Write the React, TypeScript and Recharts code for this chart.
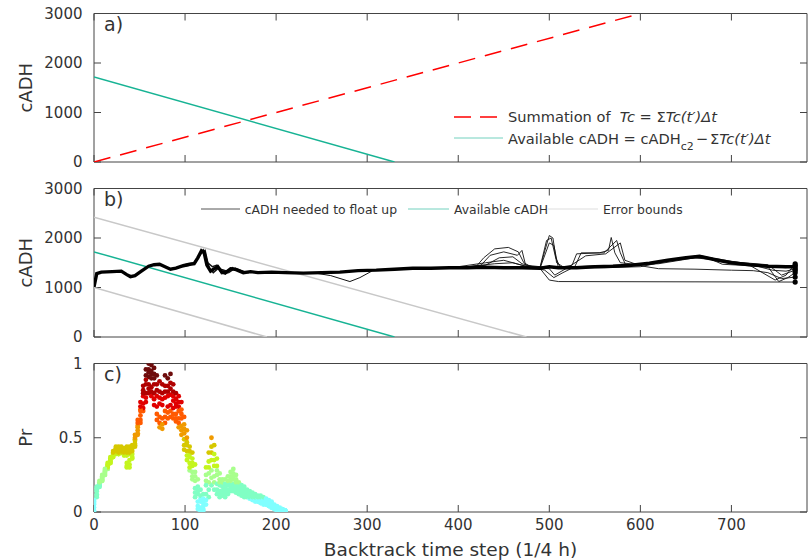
import React from 'react';
import { ComposedChart, Line, Scatter, XAxis, YAxis, ReferenceArea, Legend } from 'recharts';

const xTicks = [0, 100, 200, 300, 400, 500, 600, 700];
const cadhTicks = [0, 1000, 2000, 3000];
const prTicks = [0, 0.5, 1];

// straight lines, [time step, cADH]
const summation: [number, number][] = [[0, 0], [600, 3000]];
const available: [number, number][] = [[0, 1720], [330, 0]];
const upperBound: [number, number][] = [[0, 2420], [475, 0]];
const lowerBound: [number, number][] = [[0, 1000], [190, 0]];

// cADH needed to float up, ensemble members
const ensembleCore: [number, number][] = [
  [0, 1010], [3, 1280], [8, 1310], [20, 1320], [30, 1330], [36, 1260], [40, 1220], [45, 1240], [52, 1330],
  [60, 1430], [66, 1460], [72, 1470], [78, 1420], [84, 1370], [90, 1390], [98, 1440], [105, 1470], [110, 1480],
  [114, 1600], [118, 1740], [121, 1700], [124, 1450], [128, 1330], [132, 1380], [136, 1420], [140, 1320],
  [144, 1290], [150, 1380], [156, 1360], [164, 1300], [172, 1320], [180, 1300], [195, 1310], [210, 1300],
  [230, 1290], [250, 1300], [270, 1310], [290, 1340], [310, 1350], [330, 1370], [350, 1390], [370, 1390],
  [390, 1400], [410, 1400], [430, 1410], [450, 1400], [470, 1400], [490, 1390], [500, 1420], [510, 1400],
  [530, 1400], [550, 1420], [570, 1430], [590, 1450], [610, 1490], [630, 1550], [650, 1600], [665, 1630],
  [680, 1570], [700, 1500], [720, 1460], [740, 1430], [760, 1420], [770, 1420],
];
const member1: [number, number][] = [
  [400, 1410], [420, 1430], [428, 1600], [440, 1780], [455, 1810], [466, 1720], [472, 1500], [480, 1420],
  [490, 1410], [496, 1800], [500, 2050], [504, 2000], [508, 1500], [515, 1420], [530, 1420], [560, 1440],
  [600, 1470], [640, 1580], [665, 1640], [690, 1560], [720, 1470], [745, 1350], [760, 1330], [770, 1380],
];
const member2: [number, number][] = [
  [400, 1400], [425, 1450], [435, 1650], [450, 1720], [465, 1650], [470, 1750], [474, 1450], [490, 1420],
  [497, 1950], [502, 2000], [507, 1600], [512, 1410], [525, 1450], [530, 1680], [555, 1700], [565, 1750],
  [568, 2010], [572, 1700], [578, 1500], [600, 1460], [640, 1560], [665, 1620], [690, 1520], [720, 1450],
  [748, 1150], [760, 1250], [770, 1480],
];
const member3: [number, number][] = [
  [400, 1390], [430, 1450], [445, 1600], [460, 1620], [470, 1480], [490, 1380], [500, 1150], [510, 1120],
  [770, 1110],
];
const member4: [number, number][] = [
  [400, 1420], [430, 1500], [450, 1550], [470, 1450], [495, 1350], [505, 1200], [515, 1300], [528, 1420],
  [535, 1700], [560, 1700], [574, 1950], [578, 1700], [584, 1450], [610, 1480], [650, 1600], [670, 1600],
  [700, 1480], [740, 1420], [752, 1120], [762, 1200], [770, 1300],
];
const member5: [number, number][] = [
  [400, 1400], [440, 1480], [460, 1500], [480, 1400], [500, 1380], [506, 1250], [520, 1400], [540, 1640],
  [562, 1680], [578, 1900], [583, 1550], [600, 1440], [620, 1380], [660, 1370], [700, 1350], [724, 1340],
  [740, 1300], [755, 1180], [770, 1210],
];
const member6: [number, number][] = [
  [400, 1410], [450, 1420], [490, 1400], [500, 1900], [505, 1850], [510, 1400], [560, 1400], [600, 1420],
  [650, 1610], [670, 1630], [690, 1470], [720, 1440], [760, 1400], [770, 1450],
];
const member7: [number, number][] = [
  [400, 1400], [500, 1420], [560, 1430], [620, 1480], [660, 1600], [700, 1520], [740, 1460], [755, 1250],
  [770, 1350],
];
const member8: [number, number][] = [
  [240, 1300], [260, 1240], [281, 1120], [292, 1200], [305, 1330],
];
const member9: [number, number][] = [
  [95, 1420], [105, 1450], [112, 1520], [117, 1700], [120, 1760], [123, 1600], [127, 1380], [131, 1300],
  [136, 1380], [141, 1360], [146, 1330], [152, 1400], [160, 1330], [170, 1300],
];
const member10: [number, number][] = [
  [100, 1460], [110, 1500], [116, 1650], [119, 1720], [122, 1750], [125, 1500], [130, 1420], [135, 1450],
  [140, 1280], [148, 1300], [155, 1390], [165, 1320],
];
const members = [member1, member2, member3, member4, member5, member6, member7];

// panel c, Pr per time step for several members
const prSteps = [
  0, 3, 6, 9, 12, 15, 18, 21, 24, 27, 30, 33, 36, 39, 42, 45, 48, 51, 54, 57, 60, 63, 66, 69, 72, 75, 78, 81,
  84, 87, 90, 93, 96, 99, 102, 105, 108, 111, 114, 117, 120, 123, 126, 129, 132, 135, 138, 141, 144, 147, 150,
  153, 156, 159, 162, 165, 168, 171, 174, 177, 180, 183, 186, 189, 192, 195, 198, 201, 204, 207, 210,
];
const prLow = [
  0.00, 0.10, 0.17, 0.21, 0.25, 0.29, 0.33, 0.37, 0.39, 0.39,
  0.40, 0.38, 0.30, 0.30, 0.36, 0.44, 0.52, 0.60, 0.68, 0.74,
  0.80, 0.78, 0.72, 0.62, 0.57, 0.56, 0.60, 0.63, 0.64, 0.63,
  0.61, 0.57, 0.52, 0.42, 0.35, 0.28, 0.22, 0.10, 0.02, 0.00,
  0.01, 0.05, 0.10, 0.18, 0.15, 0.12, 0.10, 0.11, 0.10, 0.12,
  0.14, 0.14, 0.13, 0.12, 0.11, 0.10, 0.10, 0.09, 0.08, 0.07,
  0.07, 0.06, 0.05, 0.05, 0.04, 0.03, 0.02, 0.01, 0.00, 0.00,
  0.00,
];
const prLowMid = [
  0.01, 0.11, 0.17, 0.21, 0.25, 0.29, 0.33, 0.37, 0.40, 0.39,
  0.41, 0.39, 0.31, 0.32, 0.37, 0.45, 0.53, 0.62, 0.70, 0.77,
  0.83, 0.81, 0.76, 0.66, 0.60, 0.59, 0.64, 0.67, 0.68, 0.66,
  0.63, 0.60, 0.55, 0.45, 0.38, 0.30, 0.24, 0.13, 0.04, 0.01,
  0.02, 0.08, 0.15, 0.23, 0.20, 0.15, 0.12, 0.12, 0.12, 0.13,
  0.16, 0.16, 0.15, 0.13, 0.12, 0.11, 0.11, 0.10, 0.09, 0.08,
  0.07, 0.06, 0.06, 0.05, 0.04, 0.03, 0.02, 0.01, 0.01, 0.00,
  0.00,
];
const prMid1 = [
  0.03, 0.12, 0.18, 0.22, 0.26, 0.30, 0.34, 0.38, 0.41, 0.40,
  0.42, 0.40, 0.33, 0.35, 0.39, 0.46, 0.55, 0.65, 0.73, 0.80,
  0.86, 0.84, 0.80, 0.71, 0.64, 0.63, 0.68, 0.71, 0.72, 0.70,
  0.66, 0.63, 0.58, 0.49, 0.41, 0.33, 0.27, 0.16, 0.07, 0.03,
  0.04, 0.12, 0.20, 0.28, 0.24, 0.19, 0.14, 0.14, 0.14, 0.15,
  0.18, 0.19, 0.17, 0.15, 0.13, 0.12, 0.12, 0.11, 0.10, 0.09,
  0.08, 0.07, 0.07, 0.06, 0.05, 0.04, 0.03, 0.02, 0.01, 0.01,
  0.00,
];
const prMid2 = [
  0.05, 0.14, 0.19, 0.23, 0.27, 0.31, 0.35, 0.39, 0.42, 0.42,
  0.42, 0.41, 0.38, 0.39, 0.41, 0.48, 0.57, 0.68, 0.78, 0.86,
  0.91, 0.90, 0.86, 0.78, 0.73, 0.72, 0.77, 0.78, 0.79, 0.75,
  0.71, 0.68, 0.63, 0.53, 0.45, 0.37, 0.31, 0.21, 0.12, 0.07,
  0.06, 0.18, 0.26, 0.35, 0.31, 0.25, 0.18, 0.17, 0.16, 0.18,
  0.21, 0.22, 0.19, 0.16, 0.15, 0.14, 0.13, 0.12, 0.11, 0.10,
  0.09, 0.09, 0.08, 0.07, 0.06, 0.05, 0.04, 0.03, 0.02, 0.01,
  0.01,
];
const prHighMid = [
  0.06, 0.15, 0.19, 0.23, 0.27, 0.31, 0.35, 0.39, 0.42, 0.42,
  0.42, 0.41, 0.40, 0.40, 0.43, 0.49, 0.58, 0.69, 0.80, 0.89,
  0.94, 0.93, 0.90, 0.82, 0.77, 0.76, 0.81, 0.81, 0.83, 0.78,
  0.73, 0.71, 0.66, 0.56, 0.47, 0.39, 0.33, 0.24, 0.14, 0.09,
  0.07, 0.21, 0.30, 0.40, 0.35, 0.28, 0.20, 0.18, 0.17, 0.19,
  0.22, 0.24, 0.20, 0.17, 0.15, 0.14, 0.13, 0.12, 0.11, 0.10,
  0.09, 0.09, 0.08, 0.07, 0.06, 0.05, 0.04, 0.03, 0.02, 0.01,
  0.01,
];
const prMid3 = [
  0.07, 0.16, 0.20, 0.24, 0.28, 0.32, 0.36, 0.40, 0.43, 0.43,
  0.43, 0.42, 0.42, 0.42, 0.44, 0.50, 0.60, 0.71, 0.82, 0.92,
  0.96, 0.95, 0.93, 0.86, 0.81, 0.80, 0.85, 0.85, 0.87, 0.81,
  0.76, 0.74, 0.69, 0.59, 0.50, 0.41, 0.36, 0.27, 0.17, 0.11,
  0.09, 0.25, 0.34, 0.44, 0.39, 0.31, 0.22, 0.20, 0.19, 0.21,
  0.24, 0.26, 0.22, 0.18, 0.16, 0.15, 0.14, 0.13, 0.12, 0.11,
  0.10, 0.10, 0.09, 0.08, 0.07, 0.06, 0.04, 0.03, 0.02, 0.02,
  0.01,
];
const prHigh = [
  0.08, 0.17, 0.21, 0.25, 0.29, 0.33, 0.37, 0.41, 0.44, 0.44,
  0.44, 0.43, 0.44, 0.44, 0.45, 0.52, 0.62, 0.74, 0.85, 0.96,
  1.00, 0.99, 0.97, 0.92, 0.88, 0.86, 0.92, 0.90, 0.93, 0.86,
  0.80, 0.78, 0.74, 0.64, 0.55, 0.44, 0.40, 0.32, 0.22, 0.15,
  0.12, 0.30, 0.40, 0.50, 0.45, 0.36, 0.26, 0.22, 0.22, 0.24,
  0.27, 0.29, 0.25, 0.20, 0.18, 0.17, 0.15, 0.14, 0.13, 0.12,
  0.11, 0.11, 0.10, 0.09, 0.08, 0.07, 0.05, 0.04, 0.03, 0.02,
  0.01,
];
const prMembers = [prLow, prLowMid, prMid1, prMid2, prHighMid, prMid3, prHigh];

// one colour per 0.1 band of Pr
const prColors = ['#80ffff', '#80ffc4', '#a8ff8c', '#c4f51e', '#d6c800', '#f09a00', '#ff5a00', '#e00000', '#b00000', '#6e0c0c'];

const FRAME = '#444';
const TEXT = '#333';
const FONT = '"DejaVu Sans", Verdana, sans-serif';
const TEAL = '#17b394';
const X_MAX = 783;
const TICK_LEN = 7;
// plot box inside every panel's svg
const PLOT = { left: 94, right: 807, top: 13.5, bottom: 162 };

const toPoints = (pairs: [number, number][]) => pairs.map(([x, v]) => ({ x, v }));
const prPoints = (vals: number[]) => prSteps.map((x, i) => ({ x, v: vals[i] })).filter((p) => p.v !== undefined);
const prColor = (p: number) => prColors[Math.max(0, Math.min(9, Math.floor(p * 10 + 1e-9)))];

const YTick = (props: any) => (
  <text x={PLOT.left - 11.5} y={props.y} dy="0.35em" textAnchor="end" fill={TEXT} fontSize={15} fontFamily={FONT}>
    {props.payload.value}
  </text>
);

const XTick = (props: any) => (
  <text x={props.x} y={PLOT.bottom + 17.5} textAnchor="middle" fill={TEXT} fontSize={15} fontFamily={FONT}>
    {props.payload.value}
  </text>
);

const NoTick = () => <g />;

// panel letter plus the inward tick marks on all four sides of the box
const BoxDecor = (props: any) => {
  const vb = props.viewBox || { x: 0, y: 0, width: 0, height: 0 };
  const [y0, y1] = props.yDomain;
  const left = vb.x;
  const right = vb.x + vb.width;
  const top = vb.y;
  const bottom = vb.y + vb.height;
  const tx = (t: number) => left + (t / X_MAX) * vb.width;
  const ty = (v: number) => bottom - ((v - y0) / (y1 - y0)) * vb.height;
  return (
    <g>
      {xTicks.map((t) => (
        <g key={`x${t}`}>
          <line x1={tx(t)} x2={tx(t)} y1={bottom - TICK_LEN} y2={bottom} stroke={FRAME} strokeWidth={1} />
          <line x1={tx(t)} x2={tx(t)} y1={top} y2={top + TICK_LEN} stroke={FRAME} strokeWidth={1} />
        </g>
      ))}
      {props.yTicks.map((v: number) => (
        <g key={`y${v}`}>
          <line x1={left} x2={left + TICK_LEN} y1={ty(v)} y2={ty(v)} stroke={FRAME} strokeWidth={1} />
          <line x1={right - TICK_LEN} x2={right} y1={ty(v)} y2={ty(v)} stroke={FRAME} strokeWidth={1} />
        </g>
      ))}
      <text x={left + 10} y={top + 17} fontSize={19} fill={TEXT} fontFamily={FONT}>{props.text}</text>
    </g>
  );
};

const YTitle = (props: any) => {
  const vb = props.viewBox || { y: 0, height: 0 };
  const cy = vb.y + vb.height / 2;
  return (
    <text x={32} y={cy} transform={`rotate(-90 32 ${cy})`} textAnchor="middle" fontSize={18} fill={TEXT} fontFamily={FONT}>
      {props.text}
    </text>
  );
};

const XTitle = (props: any) => {
  const vb = props.viewBox || { x: 0, y: 0, width: 0 };
  return (
    <text x={vb.x + vb.width / 2} y={vb.y + 44} textAnchor="middle" fontSize={18.5} fill={TEXT} fontFamily={FONT}>
      Backtrack time step (1/4 h)
    </text>
  );
};

const frame = (yDomain: number[], yTicks: number[], yLabel: string, tag: string, showX: boolean) => [
  <XAxis key="xb" xAxisId="b" type="number" dataKey="x" domain={[0, X_MAX]} ticks={xTicks} interval={0}
    allowDataOverflow axisLine={false} tickLine={false} height={showX ? 48 : 1}
    tick={showX ? XTick : NoTick} label={showX ? (p: any) => <XTitle {...p} /> : undefined} />,
  <YAxis key="yl" yAxisId="l" type="number" dataKey="v" domain={yDomain} ticks={yTicks} interval={0}
    allowDataOverflow axisLine={false} tickLine={false} width={60} tick={YTick}
    label={(p: any) => <YTitle {...p} text={yLabel} />} />,
  <ReferenceArea key="box" xAxisId="b" yAxisId="l" x1={0} x2={X_MAX} y1={yDomain[0]} y2={yDomain[1]}
    fill="none" fillOpacity={0} stroke={FRAME} strokeWidth={1} ifOverflow="visible"
    label={(p: any) => <BoxDecor {...p} text={tag} yDomain={yDomain} yTicks={yTicks} />} />,
];

const LegendA = () => (
  <div style={{ fontFamily: FONT, fontSize: 14.6, color: TEXT, whiteSpace: 'pre' }}>
    <div style={{ display: 'flex', alignItems: 'center', height: 21.6 }}>
      <svg width={54} height={10}>
        <line x1={0} x2={43} y1={5} y2={5} stroke="#ff0000" strokeWidth={1.3} strokeDasharray="17 9" />
      </svg>
      <span>Summation of  <i>Tc</i> = Σ<i>Tc(t′)Δt</i></span>
    </div>
    <div style={{ display: 'flex', alignItems: 'center', height: 21.6 }}>
      <svg width={54} height={10}>
        <line x1={0} x2={49} y1={5} y2={5} stroke={TEAL} strokeWidth={1} opacity={0.6} />
      </svg>
      <span>
        Available cADH = cADH<span style={{ fontSize: 11, position: 'relative', top: 6 }}>c2</span>
        <span style={{ padding: '0 2px' }}>−</span>Σ<i>Tc(t′)Δt</i>
      </span>
    </div>
  </div>
);

const legendBItems = [
  { left: 0, width: 39, color: '#555', text: 'cADH needed to float up' },
  { left: 207.3, width: 41, color: TEAL, text: 'Available cADH' },
  { left: 347.3, width: 50, color: '#ddd', text: 'Error bounds' },
];

const LegendB = () => (
  <div style={{ position: 'relative', width: 490, height: 20, fontFamily: FONT, fontSize: 12.4, color: TEXT }}>
    {legendBItems.map((it) => (
      <div key={it.text} style={{ position: 'absolute', left: it.left, top: 0, height: 20, display: 'flex', alignItems: 'center', whiteSpace: 'pre' }}>
        <svg width={it.width + 5} height={10}>
          <line x1={0} x2={it.width} y1={5} y2={5} stroke={it.color} strokeWidth={1} opacity={it.color === TEAL ? 0.6 : 1} />
        </svg>
        <span>{it.text}</span>
      </div>
    ))}
  </div>
);

const endDot = (len: number) => (p: any) =>
  p.index === len - 1
    ? <circle key={`d${p.index}`} cx={p.cx} cy={p.cy} r={2.6} fill="#000" />
    : <g key={`d${p.index}`} />;

export default function App() {
  const marginAB = { top: PLOT.top, right: 1, left: 34, bottom: 12 };
  const marginC = { top: PLOT.top, right: 1, left: 34, bottom: 0 };
  return (
    <div style={{ position: 'absolute', left: 0, top: 0, width: 808, height: 560, background: '#fff' }}>
      <div style={{ position: 'absolute', left: 0, top: 0 }}>
        <ComposedChart width={808} height={175} margin={marginAB}>
          {frame([0, 3000], cadhTicks, 'cADH', 'a)', false)}
          <Legend verticalAlign="middle" align="center" layout="horizontal" content={() => <LegendA />}
            wrapperStyle={{ left: 454, top: 106, width: 350 }} />
          <Line xAxisId="b" yAxisId="l" data={toPoints(available)} dataKey="v" stroke={TEAL} strokeWidth={1.5}
            dot={false} activeDot={false} isAnimationActive={false} />
          <Line xAxisId="b" yAxisId="l" data={toPoints(summation)} dataKey="v" stroke="#ff0000" strokeWidth={1.5}
            strokeDasharray="17 10" dot={false} activeDot={false} isAnimationActive={false} />
        </ComposedChart>
      </div>
      <div style={{ position: 'absolute', left: 0, top: 175 }}>
        <ComposedChart width={808} height={175} margin={marginAB}>
          {frame([0, 3000], cadhTicks, 'cADH', 'b)', false)}
          <Legend verticalAlign="middle" align="center" layout="horizontal" content={() => <LegendB />}
            wrapperStyle={{ left: 200.7, top: 24.3, width: 490 }} />
          <Line xAxisId="b" yAxisId="l" data={toPoints(upperBound)} dataKey="v" stroke="#c8c8c8" strokeWidth={1.5}
            dot={false} activeDot={false} isAnimationActive={false} />
          <Line xAxisId="b" yAxisId="l" data={toPoints(lowerBound)} dataKey="v" stroke="#c8c8c8" strokeWidth={1.5}
            dot={false} activeDot={false} isAnimationActive={false} />
          <Line xAxisId="b" yAxisId="l" data={toPoints(available)} dataKey="v" stroke={TEAL} strokeWidth={1.5}
            dot={false} activeDot={false} isAnimationActive={false} />
          <Line xAxisId="b" yAxisId="l" data={toPoints(member8)} dataKey="v" stroke="#111" strokeWidth={1}
            dot={false} activeDot={false} isAnimationActive={false} />
          <Line xAxisId="b" yAxisId="l" data={toPoints(member9)} dataKey="v" stroke="#111" strokeWidth={1.5}
            dot={false} activeDot={false} isAnimationActive={false} />
          <Line xAxisId="b" yAxisId="l" data={toPoints(member10)} dataKey="v" stroke="#111" strokeWidth={1.5}
            dot={false} activeDot={false} isAnimationActive={false} />
          {members.map((m, i) => (
            <Line key={`m${i}`} xAxisId="b" yAxisId="l" data={toPoints(m)} dataKey="v" stroke="#111" strokeWidth={0.9}
              dot={endDot(m.length)} activeDot={false} isAnimationActive={false} />
          ))}
          <Line xAxisId="b" yAxisId="l" data={toPoints(ensembleCore)} dataKey="v" stroke="#000" strokeWidth={3.4}
            dot={endDot(ensembleCore.length)} activeDot={false} isAnimationActive={false} />
        </ComposedChart>
      </div>
      <div style={{ position: 'absolute', left: 0, top: 350 }}>
        <ComposedChart width={808} height={210} margin={marginC}>
          {frame([0, 1], prTicks, 'Pr', 'c)', true)}
          {prMembers.map((m, i) => (
            <Scatter key={`p${i}`} xAxisId="b" yAxisId="l" data={prPoints(m)} dataKey="v" isAnimationActive={false}
              shape={(p: any) => <circle cx={p.cx} cy={p.cy} r={2.4} fill={prColor(p.payload.v)} />} />
          ))}
        </ComposedChart>
      </div>
    </div>
  );
}
